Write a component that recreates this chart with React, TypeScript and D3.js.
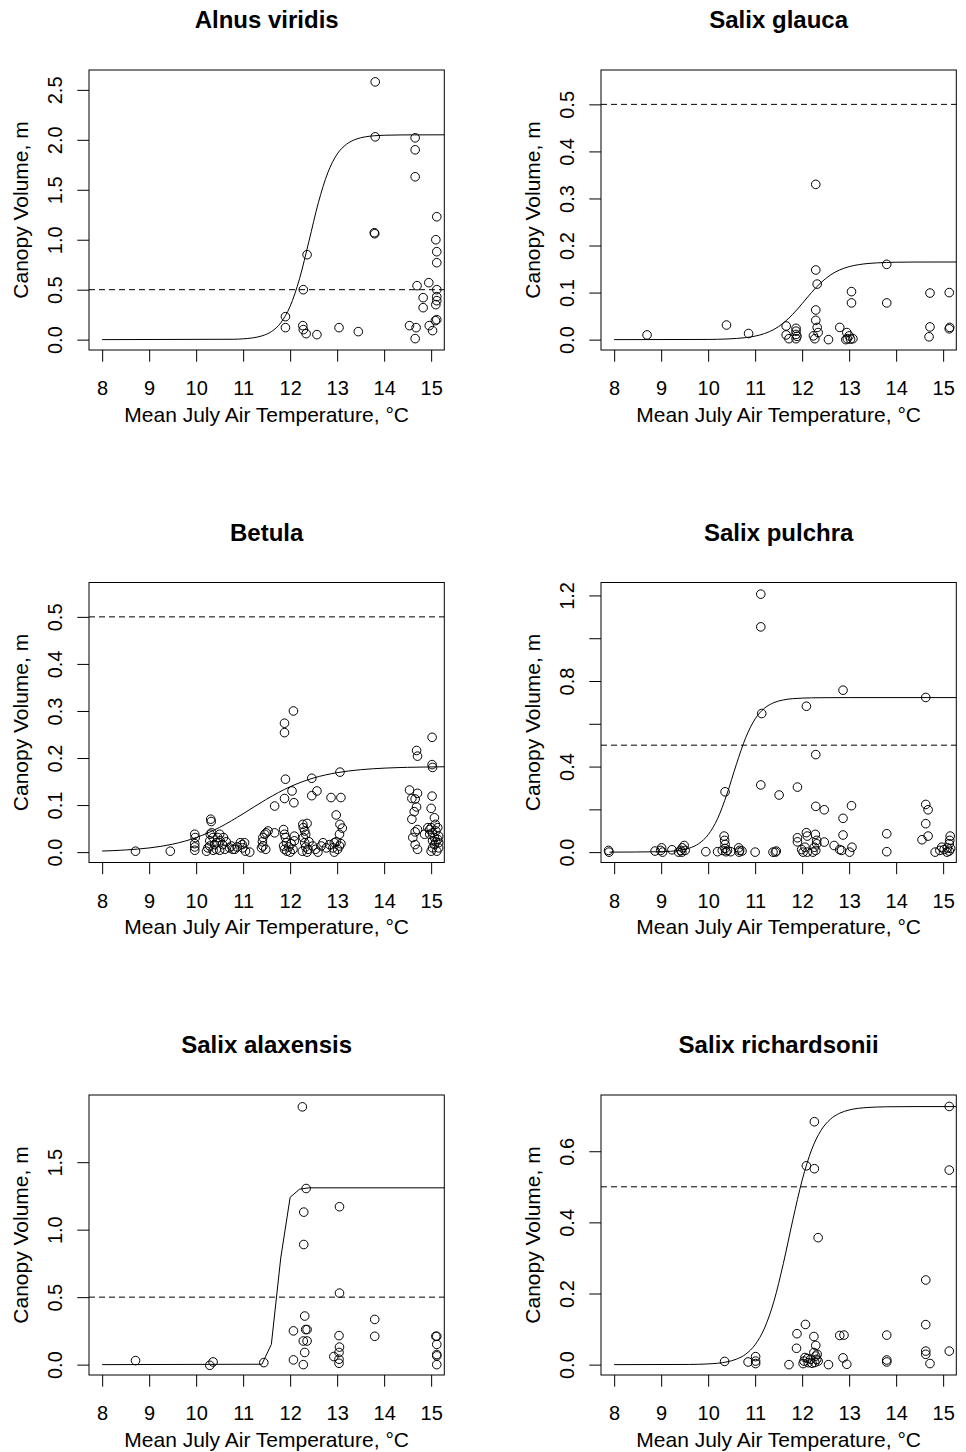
import { useEffect, useRef } from 'react';
import * as d3 from 'd3';

type Pt = [number, number];

// panel titles, in reading order
const titles = ['Alnus viridis', 'Salix glauca', 'Betula', 'Salix pulchra', 'Salix alaxensis', 'Salix richardsonii'];

const xTicks = [8, 9, 10, 11, 12, 13, 14, 15];
const xLimits: Pt = [8, 15];
const threshold = 0.5;

// upper end of each panel's y data range
const yMax = [2.595, 0.551, 0.551, 1.212, 1.921, 0.729];
const yTicks = [
  [0, 0.5, 1, 1.5, 2, 2.5],
  [0, 0.1, 0.2, 0.3, 0.4, 0.5],
  [0, 0.1, 0.2, 0.3, 0.4, 0.5],
  [0, 0.2, 0.4, 0.6, 0.8, 1.0, 1.2],
  [0, 0.5, 1, 1.5],
  [0, 0.2, 0.4, 0.6],
];
// only every n-th tick gets a label
const yLabelEvery = [1, 1, 1, 2, 1, 1];

// observed plots (temperature, canopy volume)
const alnusPts: Pt[] = [
  [13.81, 2.58], [13.81, 2.03], [14.66, 2.02], [14.66, 1.9], [14.66, 1.63], [13.79, 1.07], [13.8, 1.06],
  [15.12, 1.23], [15.1, 1.0], [15.12, 0.88], [15.12, 0.77], [12.36, 0.85], [12.28, 0.5], [14.7, 0.54],
  [14.95, 0.57], [15.12, 0.5], [15.12, 0.43], [14.83, 0.42], [14.83, 0.32], [15.1, 0.35], [15.12, 0.39],
  [15.12, 0.2], [15.09, 0.19], [11.9, 0.23], [11.9, 0.12], [12.27, 0.14], [12.28, 0.1], [12.34, 0.06],
  [12.57, 0.05], [13.04, 0.12], [13.45, 0.08], [14.54, 0.14], [14.68, 0.12], [14.66, 0.01], [14.96, 0.14],
  [15.03, 0.09],
];

const glaucaPts: Pt[] = [
  [12.29, 0.33], [12.29, 0.148], [12.32, 0.118], [12.29, 0.063], [12.29, 0.041], [12.32, 0.026], [12.34, 0.015],
  [12.24, 0.008], [12.27, 0.002], [13.8, 0.16], [13.8, 0.078], [13.05, 0.102], [13.05, 0.078], [14.72, 0.099],
  [15.13, 0.1], [14.72, 0.027], [14.7, 0.006], [15.14, 0.026], [15.13, 0.023], [8.7, 0.01], [10.39, 0.031],
  [10.86, 0.013], [11.66, 0.029], [11.66, 0.01], [11.72, 0.002], [11.87, 0.024], [11.87, 0.018], [11.87, 0.011],
  [11.87, 0.002], [11.89, 0.007], [12.56, 0.0], [12.8, 0.026], [12.95, 0.015], [12.96, 0.002], [13.0, 0.008],
  [13.03, 0.001], [13.08, 0.002], [12.93, 0.0],
];

const betulaPts: Pt[] = [
  [8.71, 0.002], [9.45, 0.002], [12.07, 0.3], [11.88, 0.274], [11.88, 0.254], [11.9, 0.155], [11.88, 0.114],
  [12.04, 0.13], [12.08, 0.105], [11.67, 0.098], [12.46, 0.157], [12.46, 0.12], [12.57, 0.13], [12.87, 0.116],
  [13.08, 0.116], [13.06, 0.17], [12.98, 0.079], [13.06, 0.059], [13.11, 0.051], [13.05, 0.038],
  [14.69, 0.216], [14.71, 0.204], [15.02, 0.244], [15.02, 0.186], [15.03, 0.18], [15.02, 0.119], [15.0, 0.093],
  [15.07, 0.073], [14.54, 0.132], [14.59, 0.114], [14.71, 0.125], [14.66, 0.113], [14.69, 0.096], [14.64, 0.086],
  [14.59, 0.07], [14.71, 0.048], [14.66, 0.043], [14.61, 0.031], [14.66, 0.016], [14.71, 0.006], [14.86, 0.038],
  [14.93, 0.052], [14.97, 0.038],
  [9.97, 0.038], [9.98, 0.031], [9.97, 0.018], [9.97, 0.011], [9.97, 0.004],
  [10.31, 0.07], [10.32, 0.065], [10.22, 0.002], [10.25, 0.009], [10.29, 0.024], [10.3, 0.038], [10.33, 0.041],
  [10.36, 0.031], [10.39, 0.016], [10.43, 0.006], [10.46, 0.031], [10.5, 0.038], [10.51, 0.024], [10.56, 0.016],
  [10.58, 0.031], [10.61, 0.006], [10.64, 0.022], [10.71, 0.009], [10.75, 0.013], [10.78, 0.006], [10.29, 0.013],
  [10.36, 0.004], [10.43, 0.02], [10.5, 0.004],
  [10.94, 0.02], [10.98, 0.016], [10.99, 0.009], [11.03, 0.02], [11.05, 0.002], [11.14, 0.0], [10.82, 0.006],
  [10.87, 0.011],
  [11.39, 0.009], [11.41, 0.022], [11.42, 0.031], [11.46, 0.038], [11.49, 0.041], [11.53, 0.045], [11.42, 0.013],
  [11.48, 0.006], [11.67, 0.041],
  [11.86, 0.048], [11.88, 0.038], [11.9, 0.031], [11.92, 0.02], [11.86, 0.013], [11.88, 0.006], [11.93, 0.002],
  [11.97, 0.011], [12.0, 0.0], [12.02, 0.018], [12.06, 0.006], [12.09, 0.034], [12.09, 0.024],
  [12.27, 0.059], [12.28, 0.052], [12.31, 0.045], [12.33, 0.038], [12.36, 0.061], [12.28, 0.031], [12.31, 0.02],
  [12.33, 0.011], [12.26, 0.002], [12.36, 0.0], [12.38, 0.006], [12.4, 0.022],
  [12.48, 0.013], [12.54, 0.006], [12.59, 0.0], [12.66, 0.013], [12.7, 0.02], [12.77, 0.009], [12.84, 0.016],
  [12.91, 0.009], [12.94, 0.0], [12.98, 0.022], [13.01, 0.006], [13.05, 0.013], [13.08, 0.018], [12.94, 0.02],
  [15.0, 0.002], [15.03, 0.009], [15.07, 0.016], [15.1, 0.022], [15.14, 0.027], [15.16, 0.034], [15.07, 0.031],
  [15.03, 0.041], [15.1, 0.045], [15.0, 0.052], [15.14, 0.052], [15.09, 0.059], [15.16, 0.009], [15.12, 0.002],
  [15.03, 0.024], [15.16, 0.02], [14.97, 0.048],
];

const pulchraPts: Pt[] = [
  [11.12, 1.206], [11.12, 1.053], [12.87, 0.757], [14.63, 0.723], [11.14, 0.648], [12.09, 0.682], [12.29, 0.456],
  [10.36, 0.282], [11.12, 0.314], [11.51, 0.267], [11.9, 0.304], [12.29, 0.214], [12.47, 0.198], [13.05, 0.217],
  [12.87, 0.158], [14.63, 0.223], [14.68, 0.198], [14.63, 0.133], [12.87, 0.08], [13.8, 0.086], [13.8, 0.002],
  [14.68, 0.075], [14.55, 0.058], [11.9, 0.067], [11.9, 0.048], [12.09, 0.091], [12.11, 0.075], [12.28, 0.083],
  [12.31, 0.055], [12.47, 0.047], [12.68, 0.031], [12.8, 0.012], [12.84, 0.008], [13.06, 0.023], [13.01, 0.0],
  [10.34, 0.075], [10.35, 0.055], [10.36, 0.036], [10.36, 0.017], [10.38, 0.002], [10.3, 0.008], [10.41, 0.008],
  [10.48, 0.002], [10.2, 0.002],
  [8.87, 0.005], [8.99, 0.008], [9.01, 0.02], [9.03, 0.0], [9.23, 0.011], [7.88, 0.008], [7.89, 0.0],
  [9.37, 0.0], [9.42, 0.008], [9.45, 0.02], [9.49, 0.031], [9.51, 0.008], [9.44, 0.0], [9.95, 0.002],
  [10.65, 0.02], [10.67, 0.008], [10.72, 0.005], [10.66, 0.0], [11.0, 0.0], [11.38, 0.0], [11.43, 0.0], [11.45, 0.005],
  [11.99, 0.012], [12.02, 0.0], [12.06, 0.023], [12.11, 0.0], [12.23, 0.0], [12.26, 0.023], [12.29, 0.008],
  [12.31, 0.039],
  [14.83, 0.0], [14.93, 0.008], [14.97, 0.023], [15.02, 0.012], [15.09, 0.02], [15.13, 0.039], [15.14, 0.055],
  [15.15, 0.075], [15.13, 0.005], [15.08, 0.0], [15.16, 0.017],
];

const alaxensisPts: Pt[] = [
  [12.26, 1.91], [12.34, 1.305], [12.29, 1.13], [12.29, 0.89], [13.05, 1.17], [13.05, 0.53], [12.31, 0.36],
  [12.07, 0.25], [12.33, 0.26], [12.36, 0.26], [12.28, 0.175], [12.36, 0.175], [12.31, 0.09], [12.28, 0.0],
  [12.07, 0.035], [13.04, 0.215], [13.05, 0.13], [12.93, 0.06], [13.04, 0.09], [13.04, 0.04], [13.04, 0.01],
  [13.8, 0.335], [13.8, 0.21], [15.12, 0.21], [15.1, 0.21], [15.12, 0.15], [15.12, 0.075], [15.12, 0.065],
  [15.12, 0.0], [8.71, 0.03], [10.29, -0.005], [10.36, 0.02], [11.44, 0.015],
];

const richardsoniiPts: Pt[] = [
  [15.13, 0.726], [12.26, 0.683], [12.09, 0.559], [12.26, 0.551], [15.13, 0.547], [12.34, 0.357], [14.63, 0.238],
  [14.63, 0.1125], [14.63, 0.038], [14.63, 0.029], [14.72, 0.003], [15.13, 0.038], [12.07, 0.113], [11.89, 0.087],
  [11.88, 0.046], [12.25, 0.079], [12.29, 0.054], [12.8, 0.082], [12.89, 0.083], [12.87, 0.019], [12.95, 0.001],
  [13.8, 0.083], [13.8, 0.013], [13.8, 0.0075], [12.56, 0.0], [11.72, 0.0], [10.35, 0.009], [10.85, 0.0075],
  [11.01, 0.0225], [11.01, 0.01], [11.01, 0.003],
  [12.04, 0.01], [12.02, 0.003], [12.06, 0.02], [12.11, 0.017], [12.13, 0.0056], [12.25, 0.034], [12.29, 0.024],
  [12.31, 0.015], [12.32, 0.029], [12.27, 0.006], [12.21, 0.004], [12.34, 0.01], [12.18, 0.015],
];

// fitted curves
const alnusFit: Pt[] = [
  [8, 0], [10.8, 0.0037], [11.0, 0.008], [11.2, 0.0174], [11.4, 0.0375], [11.6, 0.08], [11.8, 0.168],
  [12.0, 0.334], [12.2, 0.61], [12.4, 0.985], [12.6, 1.37], [12.8, 1.669], [13.0, 1.857], [13.2, 1.956],
  [13.4, 2.006], [13.6, 2.03], [13.8, 2.041], [14.0, 2.046], [14.4, 2.049], [15.3, 2.05],
];
const glaucaFit: Pt[] = [
  [8, 0], [10.0, 0.0004], [10.4, 0.0014], [10.8, 0.0043], [11.0, 0.0075], [11.2, 0.0129], [11.4, 0.0217],
  [11.6, 0.0352], [11.8, 0.0539], [12.0, 0.0765], [12.2, 0.1002], [12.4, 0.1211], [12.6, 0.1372], [12.8, 0.1482],
  [13.0, 0.1551], [13.2, 0.1593], [13.4, 0.1618], [13.6, 0.1632], [13.8, 0.164], [14.0, 0.1645], [14.4, 0.1649],
  [15.3, 0.165],
];
const betulaFit: Pt[] = [
  [8, 0.0023], [8.5, 0.0046], [9, 0.0089], [9.5, 0.0169], [10, 0.0309], [10.5, 0.0527], [11, 0.0816],
  [11.5, 0.1126], [12, 0.139], [12.5, 0.1576], [13, 0.1689], [13.5, 0.1752], [14, 0.1785], [14.5, 0.1802],
  [15, 0.1811], [15.3, 0.1814],
];
const pulchraFit: Pt[] = [
  [7.9, 0], [9.0, 0.0019], [9.4, 0.0087], [9.6, 0.0187], [9.8, 0.0397], [10.0, 0.0812], [10.2, 0.156],
  [10.4, 0.2716], [10.6, 0.41], [10.8, 0.5356], [11.0, 0.623], [11.2, 0.673], [11.4, 0.699], [11.6, 0.7115],
  [11.8, 0.7174], [12.0, 0.72], [12.4, 0.7219], [13.0, 0.7225], [15.3, 0.7225],
];
const alaxensisFit: Pt[] = [
  [8, 0], [11.4, 0.003], [11.6, 0.15], [11.8, 0.79], [12.0, 1.24], [12.2, 1.3], [12.4, 1.31], [15.3, 1.31],
];
const richardsoniiFit: Pt[] = [
  [8, 0], [9.6, 0.0005], [10.0, 0.002], [10.4, 0.0078], [10.6, 0.0153], [10.8, 0.0295], [11.0, 0.0562],
  [11.2, 0.1029], [11.4, 0.1783], [11.6, 0.2845], [11.8, 0.406], [12.0, 0.5187], [12.2, 0.6037], [12.4, 0.6584],
  [12.6, 0.6899], [12.8, 0.707], [13.0, 0.7161], [13.2, 0.7208], [13.4, 0.7231], [13.8, 0.725], [14.4, 0.7256],
  [15.3, 0.7256],
];

const allPts = [alnusPts, glaucaPts, betulaPts, pulchraPts, alaxensisPts, richardsoniiPts];
const allFits = [alnusFit, glaucaFit, betulaFit, pulchraFit, alaxensisFit, richardsoniiFit];

const FONT = '"Liberation Sans", Arial, sans-serif';

const App = () => {
  const svgRef = useRef<SVGSVGElement>(null);

  useEffect(() => {
    if (!svgRef.current) return;
    const svg = d3.select(svgRef.current);
    svg.selectAll('*').remove();

    const width = 966;
    const height = 1452;
    svg.append('rect').attr('width', width).attr('height', height).attr('fill', 'white');

    // plot box inside each 512px cell
    const box = { left: 89, right: 444.3, top: 70, bottom: 350 };

    titles.forEach((title, i) => {
      const ox = (i % 2) * 512;
      const oy = Math.floor(i / 2) * 512.5;
      const g = svg.append('g').attr('transform', `translate(${ox},${oy})`);

      // R style: 4% padding on both axes
      const xPad = (xLimits[1] - xLimits[0]) * 0.04;
      const x = d3.scaleLinear()
        .domain([xLimits[0] - xPad, xLimits[1] + xPad])
        .range([box.left, box.right]);
      const yPad = yMax[i] * 0.04;
      const y = d3.scaleLinear()
        .domain([-yPad, yMax[i] + yPad])
        .range([box.bottom, box.top]);

      const clipId = `clip-${i}`;
      g.append('clipPath').attr('id', clipId)
        .append('rect')
        .attr('x', box.left).attr('y', box.top)
        .attr('width', box.right - box.left).attr('height', box.bottom - box.top);

      // 0.5 m threshold
      g.append('line')
        .attr('x1', box.left).attr('x2', box.right)
        .attr('y1', y(threshold)).attr('y2', y(threshold))
        .attr('stroke', 'black')
        .attr('stroke-width', 1)
        .attr('stroke-dasharray', '6,4');

      // fitted curve
      const line = d3.line<Pt>()
        .x(d => x(d[0]))
        .y(d => y(d[1]))
        .curve(i === 4 ? d3.curveLinear : d3.curveMonotoneX);
      g.append('path')
        .datum(allFits[i])
        .attr('d', line)
        .attr('fill', 'none')
        .attr('stroke', 'black')
        .attr('stroke-width', 1)
        .attr('clip-path', `url(#${clipId})`);

      // points
      g.append('g')
        .selectAll('circle')
        .data(allPts[i])
        .join('circle')
        .attr('cx', d => x(d[0]))
        .attr('cy', d => y(d[1]))
        .attr('r', 4.3)
        .attr('fill', 'none')
        .attr('stroke', 'black')
        .attr('stroke-width', 1);

      // box
      g.append('rect')
        .attr('x', box.left).attr('y', box.top)
        .attr('width', box.right - box.left).attr('height', box.bottom - box.top)
        .attr('fill', 'none')
        .attr('stroke', 'black')
        .attr('stroke-width', 1);

      // x axis
      const gx = g.append('g')
        .attr('transform', `translate(0,${box.bottom})`)
        .call(d3.axisBottom(x).tickValues(xTicks).tickSize(11.7).tickSizeOuter(0).tickFormat(d3.format('d')));
      gx.select('.domain').remove();
      gx.attr('font-family', FONT).attr('font-size', 20).attr('color', 'black');
      gx.selectAll('text').attr('y', 45).attr('dy', null).attr('fill', 'black');

      // y axis, rotated labels
      const every = yLabelEvery[i];
      const gy = g.append('g')
        .attr('transform', `translate(${box.left},0)`)
        .call(d3.axisLeft(y).tickValues(yTicks[i]).tickSize(11.7).tickSizeOuter(0)
          .tickFormat((d, k) => (k % every === 0 ? d3.format('.1f')(d as number) : '')));
      gy.select('.domain').remove();
      gy.attr('font-family', FONT).attr('font-size', 20).attr('color', 'black');
      gy.selectAll('text')
        .attr('x', null).attr('dy', null)
        .attr('text-anchor', 'middle')
        .attr('transform', 'translate(-27.3,0) rotate(-90)')
        .attr('fill', 'black');

      // titles
      const cx = (box.left + box.right) / 2;
      g.append('text')
        .attr('x', cx).attr('y', 28)
        .attr('text-anchor', 'middle')
        .attr('font-family', FONT)
        .attr('font-weight', 'bold')
        .attr('font-size', 24)
        .text(title);

      g.append('text')
        .attr('x', cx).attr('y', 421.7)
        .attr('text-anchor', 'middle')
        .attr('font-family', FONT)
        .attr('font-size', 21)
        .text('Mean July Air Temperature, °C');

      g.append('text')
        .attr('transform', `translate(28,${(box.top + box.bottom) / 2}) rotate(-90)`)
        .attr('text-anchor', 'middle')
        .attr('font-family', FONT)
        .attr('font-size', 21)
        .text('Canopy Volume, m');
    });
  }, []);

  return (
    <svg
      ref={svgRef}
      width="966"
      height="1452"
      style={{ position: 'absolute', left: 0, top: 0, display: 'block' }}
    />
  );
};

export default App;
